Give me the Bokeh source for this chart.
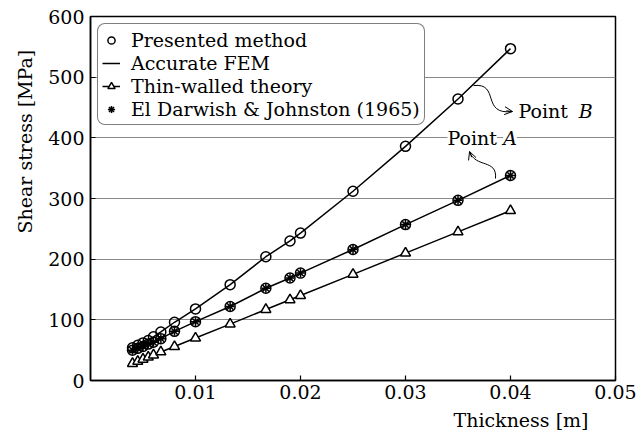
from bokeh.plotting import figure
from bokeh.models import FixedTicker, Legend, LegendItem, Label, Arrow, OpenHead, Title
from bokeh.embed import file_html
from bokeh.resources import INLINE

# ---------------- data ----------------
thickness = [0.004, 0.0045, 0.005, 0.0055, 0.006, 0.0067, 0.008, 0.01,
             0.0133, 0.0167, 0.019, 0.02, 0.025, 0.03, 0.035, 0.04]
presented_b = [54, 58, 62, 66, 72, 80, 96, 118, 158, 204, 230, 243, 312, 386, 464, 547]
presented_a = [50, 53, 56, 60, 63, 69, 81, 97, 122, 152, 169, 177, 216, 257, 297, 338]
fem_b = [54, 58, 62, 66, 72, 80, 96, 118, 158, 204, 230, 243, 312, 386, 464, 547]
fem_a = [50, 53, 56, 60, 63, 69, 81, 97, 122, 152, 169, 177, 216, 257, 297, 338]
thin_walled = [28, 31.5, 35, 38.5, 42, 47, 56, 70, 93, 117, 133, 140, 175, 210, 245, 280]
el_darwish_a = [50, 53, 56, 60, 63, 69, 81, 97, 122, 152, 169, 177, 216, 257, 297, 338]

x_ticks = [0.01, 0.02, 0.03, 0.04, 0.05]
y_ticks = [0, 100, 200, 300, 400, 500, 600]

series_names = ["Presented method", "Accurate FEM", "Thin-walled theory",
                "El Darwish & Johnston (1965)"]

FONT = "DejaVu Serif"
FS = "19px"

p = figure(width=640, height=435, x_range=(0, 0.05), y_range=(0, 600),
           output_backend="svg", toolbar_location=None,
           min_border_left=90, min_border_right=25, min_border_top=16,
           min_border_bottom=55)

p.outline_line_color = "black"
p.outline_line_width = 1.5
p.xgrid.visible = False
p.ygrid.grid_line_color = "#8a8a8a"
p.ygrid.grid_line_width = 1

p.xaxis.ticker = FixedTicker(ticks=x_ticks)
p.yaxis.ticker = FixedTicker(ticks=y_ticks)
for ax in (p.xaxis[0], p.yaxis[0]):
    ax.axis_line_color = "black"
    ax.axis_line_width = 1.5
    ax.major_tick_in = 5
    ax.major_tick_out = 0
    ax.major_tick_line_color = "black"
    ax.major_tick_line_width = 1.2
    ax.minor_tick_line_color = None
    ax.major_label_text_font = FONT
    ax.major_label_text_font_size = FS
    ax.major_label_text_color = "black"
p.xaxis.major_label_standoff = 4
p.yaxis.major_label_standoff = 6

# axis titles as side titles (placed outside the frame)
p.add_layout(Title(text="Thickness [m]", align="right", offset=27, standoff=10,
                   text_font=FONT, text_font_size=FS, text_font_style="normal",
                   text_color="black"), "below")
p.add_layout(Title(text="Shear stress [MPa]", align="left", offset=147, standoff=20,
                   text_font=FONT, text_font_size=FS, text_font_style="normal",
                   text_color="black"), "left")

# ---------------- series ----------------
line_b = p.line(thickness, fem_b, line_color="black", line_width=1.5)
line_a = p.line(thickness, fem_a, line_color="black", line_width=1.5)
tw_line = p.line(thickness, thin_walled, line_color="black", line_width=1.5)
tw_pts = p.scatter(thickness, thin_walled, marker="triangle", size=10,
                   fill_color="white", line_color="black", line_width=1.5)
circ_b = p.scatter(thickness, presented_b, marker="circle", size=10,
                   fill_color="white", fill_alpha=0, line_color="black", line_width=1.5)
circ_a = p.scatter(thickness, presented_a, marker="circle", size=10,
                   fill_color="white", fill_alpha=0, line_color="black", line_width=1.5)
ast = p.scatter(thickness, el_darwish_a, marker="asterisk", size=9,
                line_color="black", line_width=1.5)

legend = Legend(items=[
    LegendItem(label=series_names[0], renderers=[circ_b]),
    LegendItem(label=series_names[1], renderers=[line_b]),
    LegendItem(label=series_names[2], renderers=[tw_line, tw_pts]),
    LegendItem(label=series_names[3], renderers=[ast]),
], location="top_left", margin=7, padding=4, spacing=0, label_height=23,
    glyph_height=20, glyph_width=18, label_standoff=11,
    border_line_color="black", border_line_width=1.2,
    label_text_font=FONT, label_text_font_size=FS, label_text_color="black",
    background_fill_color="white", background_fill_alpha=1)
if "border_radius" in Legend.properties():
    legend.border_radius = 8
p.add_layout(legend)

# ---------------- annotations ----------------
# Point B curved arrow
p.bezier(x0=[0.03648], y0=[486.2], x1=[0.04019], y1=[443.4],
         cx0=[0.03905], cy0=[491.2], cx1=[0.03714], cy1=[436.8],
         line_color="black", line_width=1)
p.add_layout(Arrow(end=OpenHead(size=8, line_width=1, line_color="black"),
                   x_start=0.03960, y_start=444.5, x_end=0.04019, y_end=443.4,
                   line_width=1, line_color="black"))
# Point A curved arrow
p.bezier(x0=[0.03857], y0=[332.9], x1=[0.03610], y1=[377.4],
         cx0=[0.03876], cy0=[365.9], cx1=[0.03667], cy1=[349.4],
         line_color="black", line_width=1)
p.add_layout(Arrow(end=OpenHead(size=8, line_width=1, line_color="black"),
                   x_start=0.03630, y_start=368.0, x_end=0.03610, y_end=377.4,
                   line_width=1, line_color="black"))

p.add_layout(Label(x=0.04076, y=444, text="Point", text_font=FONT, text_font_size=FS,
                   text_baseline="middle", text_align="left", text_color="black"))
p.add_layout(Label(x=0.04650, y=444, text="B", text_font=FONT, text_font_size=FS,
                   text_font_style="italic", text_baseline="middle", text_align="left",
                   text_color="black"))
p.add_layout(Label(x=0.0340, y=400, text="Point", text_font=FONT, text_font_size=FS,
                   text_baseline="middle", text_align="left", text_color="black",
                   background_fill_color="white", background_fill_alpha=1))
p.add_layout(Label(x=0.03930, y=400, text="A", text_font=FONT, text_font_size=FS,
                   text_font_style="italic", text_baseline="middle", text_align="left",
                   text_color="black", background_fill_color="white",
                   background_fill_alpha=1))

open("out.html", "w").write(file_html(p, INLINE))
